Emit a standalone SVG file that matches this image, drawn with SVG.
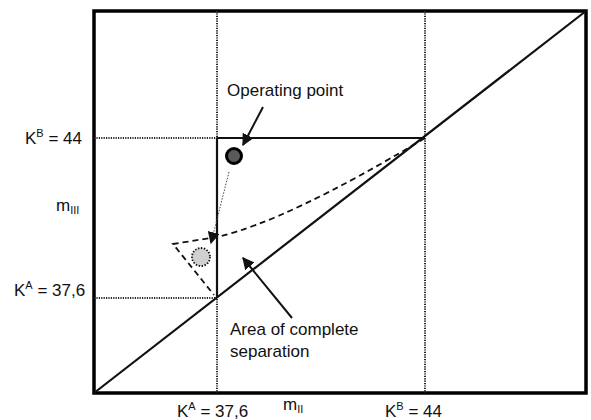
<svg xmlns="http://www.w3.org/2000/svg" width="591" height="420" viewBox="0 0 591 420">
<style>
text{font-family:"Liberation Sans",Arial,sans-serif;font-size:17px;fill:#111}
.sup{font-size:11px}
.dot{stroke:#222;stroke-width:2;stroke-dasharray:1.2 1.2;fill:none}
.solid{stroke:#111;stroke-width:2.2;fill:none}
.dash{stroke:#111;stroke-width:1.8;stroke-dasharray:6 4;fill:none}
</style>
<defs>
<marker id="ah2" viewBox="0 0 10 10" refX="9" refY="5" markerWidth="12" markerHeight="12" orient="auto" markerUnits="userSpaceOnUse">
<path d="M0,0 L10,5 L0,10 z" fill="#111"/>
</marker>
</defs>
<rect width="591" height="420" fill="#fff"/>
<g id="frame">
<rect x="94" y="11" width="492" height="382" fill="none" stroke="#000" stroke-width="3.5"/>
</g>
<g id="guides">
<line class="dot" x1="217" y1="11" x2="217" y2="393"/>
<line class="dot" x1="425" y1="11" x2="425" y2="393"/>
<line class="dot" x1="94" y1="138" x2="217" y2="138"/>
<line class="dot" x1="94" y1="298" x2="217" y2="298"/>
</g>
<g id="connectors">
<line class="solid" x1="94" y1="393" x2="586" y2="11"/>
<line class="solid" x1="217" y1="138" x2="217" y2="298"/>
<line class="solid" x1="217" y1="138" x2="425" y2="138"/>
<path class="dash" d="M425,138 Q287,221 217,237 L173,244 L214,295"/>
<line x1="229" y1="172" x2="211" y2="243" stroke="#444" stroke-width="1" stroke-dasharray="1.5 1.5" marker-end="url(#ah2)"/>
<line x1="263" y1="107" x2="243" y2="145" stroke="#111" stroke-width="2" marker-end="url(#ah2)"/>
<line x1="292" y1="318" x2="243" y2="258" stroke="#111" stroke-width="2" marker-end="url(#ah2)"/>
</g>
<g id="operating-point">
<circle cx="234" cy="156" r="7.5" fill="#5a5a5a" stroke="#000" stroke-width="3"/>
<text x="227" y="96">Operating point</text>
</g>
<g id="shifted-point">
<circle cx="201" cy="257" r="9" fill="#d0d0d0" stroke="#111" stroke-width="1.8" stroke-dasharray="1.5 1.5"/>
</g>
<g id="area-label">
<text x="230" y="335">Area of complete</text>
<text x="230" y="357">separation</text>
</g>
<g id="axis-labels">
<text x="25" y="144">K<tspan class="sup" dy="-7">B</tspan><tspan dy="7"> = 44</tspan></text>
<text x="56" y="211">m<tspan class="sup" dy="3">III</tspan></text>
<text x="14" y="296">K<tspan class="sup" dy="-7">A</tspan><tspan dy="7"> = 37,6</tspan></text>
<text x="177" y="417">K<tspan class="sup" dy="-7">A</tspan><tspan dy="7"> = 37,6</tspan></text>
<text x="283" y="410">m<tspan class="sup" dy="3">II</tspan></text>
<text x="385" y="417">K<tspan class="sup" dy="-7">B</tspan><tspan dy="7"> = 44</tspan></text>
</g>
</svg>
